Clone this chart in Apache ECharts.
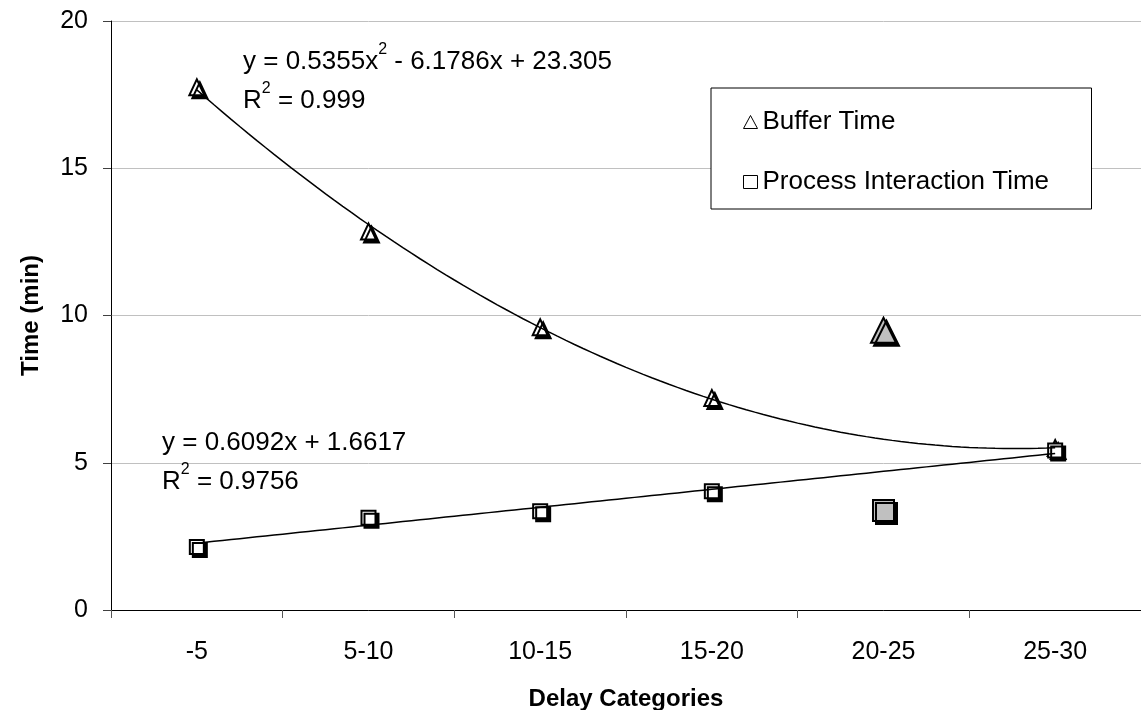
<!DOCTYPE html>
<html>
<head>
<meta charset="utf-8">
<script src="https://cdn.jsdelivr.net/npm/echarts@6/dist/echarts.min.js"></script>
<style>
  html, body { margin: 0; padding: 0; background: #fff; }
  #chart { width: 1141px; height: 710px; }
</style>
</head>
<body>
<div id="chart"></div>
<script>
// Delay categories and measured times (minutes)
const categories = ['-5', '5-10', '10-15', '15-20', '20-25', '25-30'];
const bufferTime = [17.75, 12.85, 9.6, 7.2, 9.5, 5.5];
const processTime = [2.14, 3.13, 3.35, 4.03, 3.38, 5.42];
// Points left out of the fitted trend lines (drawn larger, in grey)
const excludedFromFit = [false, false, false, false, true, false];

// Fitted trend lines: quadratic for buffer time, linear for process interaction time
const bufferFit = [0.5355, -6.1786, 23.305];
const bufferR2 = '0.999';
const processFit = [0.6092, 1.6617];
const processR2 = '0.9756';

const yTicks = { min: 0, max: 20, interval: 5 };

const FONT = '"Liberation Sans", Arial, sans-serif';

// Trend curves evaluated along the category positions 1..n
function curve(fn) {
  const pts = [];
  const n = categories.length;
  for (let i = 0; i <= (n - 1) * 20; i++) {
    const x = 1 + i / 20;
    pts.push([x, fn(x)]);
  }
  return pts;
}
const bufferCurve = curve(x => bufferFit[0] * x * x + bufferFit[1] * x + bufferFit[2]);
const processCurve = curve(x => processFit[0] * x + processFit[1]);

function signed(v) {
  return (v < 0 ? ' - ' : ' + ') + Math.abs(v);
}

const markerStyle = {
  color: '#ffffff',
  opacity: 1,
  borderColor: '#000000',
  borderWidth: 2,
  shadowColor: '#000000',
  shadowBlur: 0,
  shadowOffsetX: 3,
  shadowOffsetY: 3
};

function points(values, size, bigSize) {
  return values.map((v, i) => excludedFromFit[i]
    ? { value: v, symbolSize: bigSize, itemStyle: { color: '#c0c0c0' } }
    : { value: v, symbolSize: size });
}

const eqRich = {
  a: { fontFamily: FONT, fontSize: 26, color: '#000', lineHeight: 41 },
  s: { fontFamily: FONT, fontSize: 16, color: '#000', lineHeight: 2, verticalAlign: 'top' }
};

function eqText(x, y, str) {
  return {
    type: 'text',
    x: x, y: y,
    z: 10,
    style: { text: str, rich: eqRich, verticalAlign: 'middle', align: 'left' }
  };
}

const chart = echarts.init(document.getElementById('chart'), null, { renderer: 'canvas' });

chart.setOption({
  backgroundColor: '#ffffff',
  animation: false,
  textStyle: { fontFamily: FONT },
  grid: { left: 111, right: 0, top: 21, bottom: 100, containLabel: false, outerBoundsMode: 'none' },
  legend: {
    orient: 'vertical',
    left: 711,
    top: 88,
    data: ['Buffer Time', 'Process Interaction Time'],
    backgroundColor: '#ffffff',
    borderColor: '#000000',
    borderWidth: 1,
    borderRadius: 0,
    padding: [21, 31, 14, 32],
    itemGap: 34,
    itemWidth: 14,
    itemHeight: 13,
    itemStyle: {
      color: '#ffffff', borderColor: '#000000', borderWidth: 1,
      shadowColor: 'rgba(0,0,0,0)', shadowOffsetX: 0, shadowOffsetY: 0, shadowBlur: 0
    },
    textStyle: { fontFamily: FONT, fontSize: 26, color: '#000', lineHeight: 26, width: 298 }
  },
  xAxis: [
    {
      type: 'category',
      data: categories,
      boundaryGap: true,
      name: 'Delay Categories',
      nameLocation: 'middle',
      nameGap: 77,
      nameTextStyle: { fontFamily: FONT, fontSize: 24, fontWeight: 'bold', color: '#000' },
      axisLine: { lineStyle: { color: '#000', width: 1 } },
      axisTick: { show: true, inside: false, length: 8, alignWithLabel: false, lineStyle: { color: '#555' } },
      axisLabel: { fontFamily: FONT, fontSize: 25, color: '#000', margin: 30 },
      splitLine: { show: false }
    },
    {
      type: 'value',
      min: 0.5,
      max: categories.length + 0.5,
      show: false
    }
  ],
  yAxis: {
    type: 'value',
    min: yTicks.min,
    max: yTicks.max,
    interval: yTicks.interval,
    name: 'Time (min)',
    nameLocation: 'middle',
    nameGap: 68,
    nameRotate: 90,
    nameTextStyle: { fontFamily: FONT, fontSize: 24, fontWeight: 'bold', color: '#000' },
    axisLine: { show: true, lineStyle: { color: '#000', width: 1 } },
    axisTick: { show: true, inside: false, length: 8, lineStyle: { color: '#404040' } },
    axisLabel: { fontFamily: FONT, fontSize: 25, color: '#000', margin: 23 },
    splitLine: { show: true, lineStyle: { color: '#c0c0c0', width: 1 } }
  },
  series: [
    {
      name: 'Buffer Time',
      type: 'scatter',
      xAxisIndex: 0,
      symbol: 'triangle',
      symbolSize: [15, 16],
      itemStyle: markerStyle,
      data: points(bufferTime, [15, 16], [25, 25]),
      z: 3
    },
    {
      name: 'Process Interaction Time',
      type: 'scatter',
      xAxisIndex: 0,
      symbol: 'rect',
      symbolSize: 14,
      itemStyle: markerStyle,
      data: points(processTime, 14, 21),
      z: 4
    },
    {
      name: 'Buffer trend',
      type: 'line',
      xAxisIndex: 1,
      showSymbol: false,
      symbol: 'none',
      lineStyle: { color: '#000', width: 1.5 },
      data: bufferCurve,
      z: 6,
      silent: true
    },
    {
      name: 'Process trend',
      type: 'line',
      xAxisIndex: 1,
      showSymbol: false,
      symbol: 'none',
      lineStyle: { color: '#000', width: 1.5 },
      data: processCurve,
      z: 6,
      silent: true
    }
  ],
  graphic: [
    eqText(243, 62, '{a|y = ' + bufferFit[0] + 'x}{s|2}{a|' + signed(bufferFit[1]) + 'x' + signed(bufferFit[2]) + '}'),
    eqText(243, 101, '{a|R}{s|2}{a| = ' + bufferR2 + '}'),
    eqText(162, 443, '{a|y = ' + processFit[0] + 'x' + signed(processFit[1]) + '}'),
    eqText(162, 482, '{a|R}{s|2}{a| = ' + processR2 + '}')
  ]
});
</script>
</body>
</html>
